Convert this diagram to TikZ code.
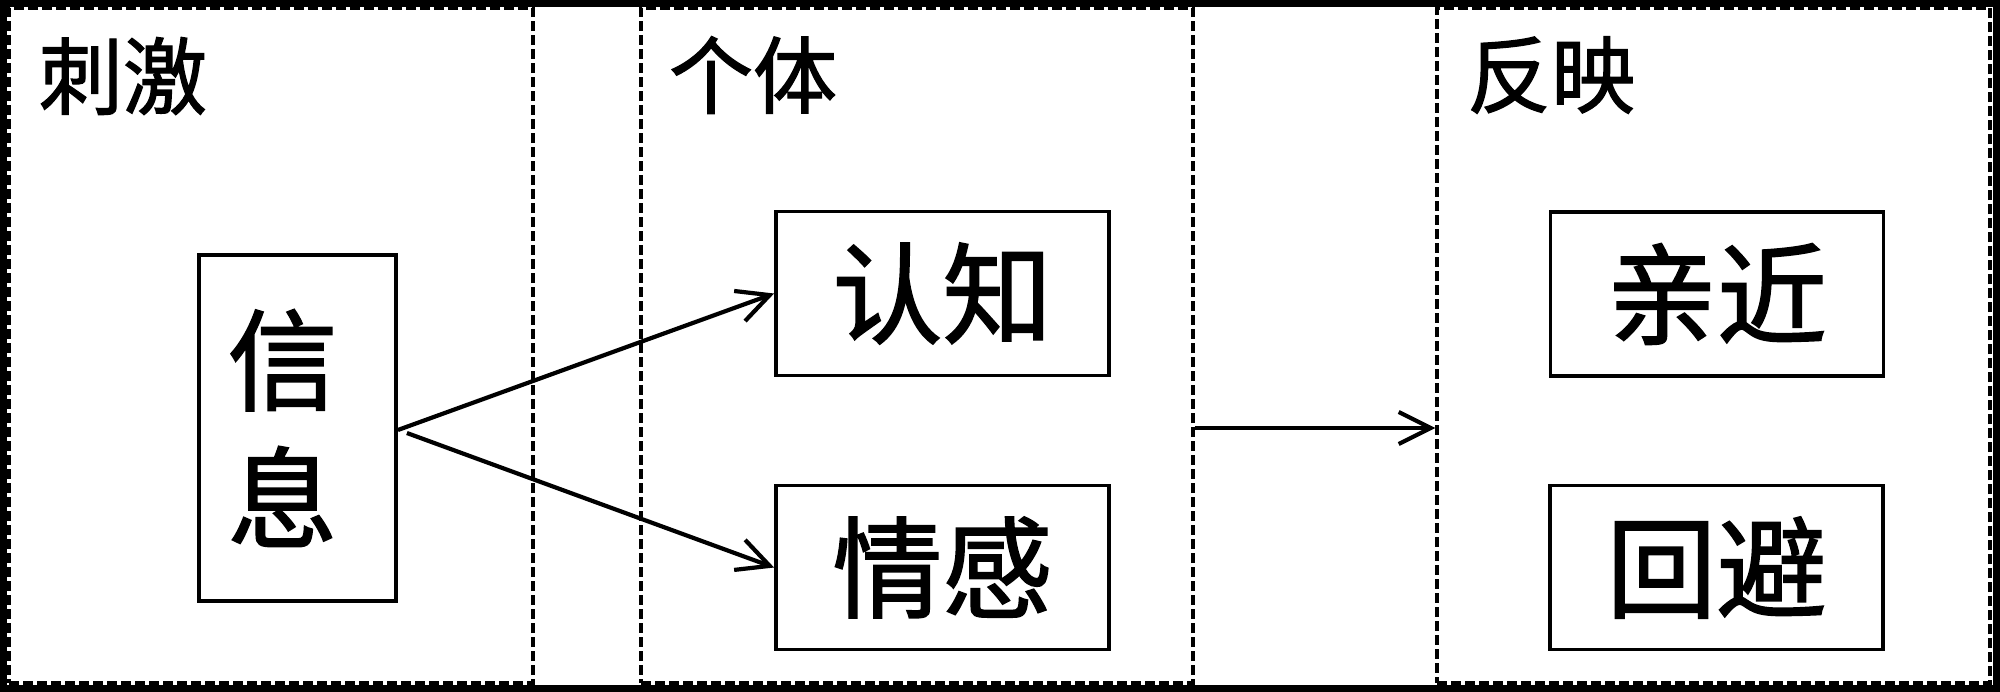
\documentclass[tikz,border=0pt]{standalone}
\usepackage{fontspec}
\newfontfamily\cjk[FakeBold=1.5]{Noto Sans CJK SC}
\usetikzlibrary{arrows.meta}
\tikzset{
  dashbox/.style={draw, line width=1.6pt, dash pattern=on 5pt off 2pt, inner sep=0pt, minimum height=337.5pt},
  solidbox/.style={draw, line width=1.9pt, inner sep=0pt, font=\cjk\fontsize{55}{69}\selectfont, align=center},
  smallbox/.style={solidbox, minimum width=166.5pt, minimum height=82pt},
  grouplabel/.style={inner sep=0pt, font=\cjk\fontsize{42}{50}\selectfont},
  flow/.style={line width=2.1pt, -{Straight Barb[length=16pt, width=16pt, line width=2.1pt]}}
}
\begin{document}
\begin{tikzpicture}[x=0.5pt, y=-0.5pt]
\useasboundingbox (0,0) rectangle (2000,691);
\fill[white] (0,0) rectangle (2000,691);
\draw[line width=3.5pt] (3.5,3) rectangle (1996.5,688);
% group frames
\node[dashbox, minimum width=262pt] (stim) at (271,345.5) {};
\node[dashbox, minimum width=276pt] (ind) at (917,345.5) {};
\node[dashbox, minimum width=276.5pt] (resp) at (1713.5,345.5) {};
% group labels
\node[grouplabel] (stimlabel) at (123,76) {刺激};
\node[grouplabel] (indlabel) at (753,75) {个体};
\node[grouplabel] (resplabel) at (1551,75) {反映};
% boxes
\node[solidbox, minimum width=98.5pt, minimum height=173pt] (xinxi) at (297.5,428) {\hspace*{-15pt}信\\\hspace*{-15pt}息};
\node[smallbox] (renzhi) at (942.5,293.5) {认知};
\node[smallbox] (qinggan) at (942.5,567.5) {情感};
\node[smallbox] (qinjin) at (1717,294) {亲近};
\node[smallbox] (huibi) at (1716.5,567.5) {回避};
% connectors
\draw[flow] ([yshift=-1pt]xinxi.east) -- (renzhi.west);
\draw[flow] ([xshift=4.5pt, yshift=-2.5pt]xinxi.east) -- (qinggan.west);
\draw[flow] (ind.east |- xinxi.east) -- (resp.west |- xinxi.east);
\end{tikzpicture}
\end{document}
